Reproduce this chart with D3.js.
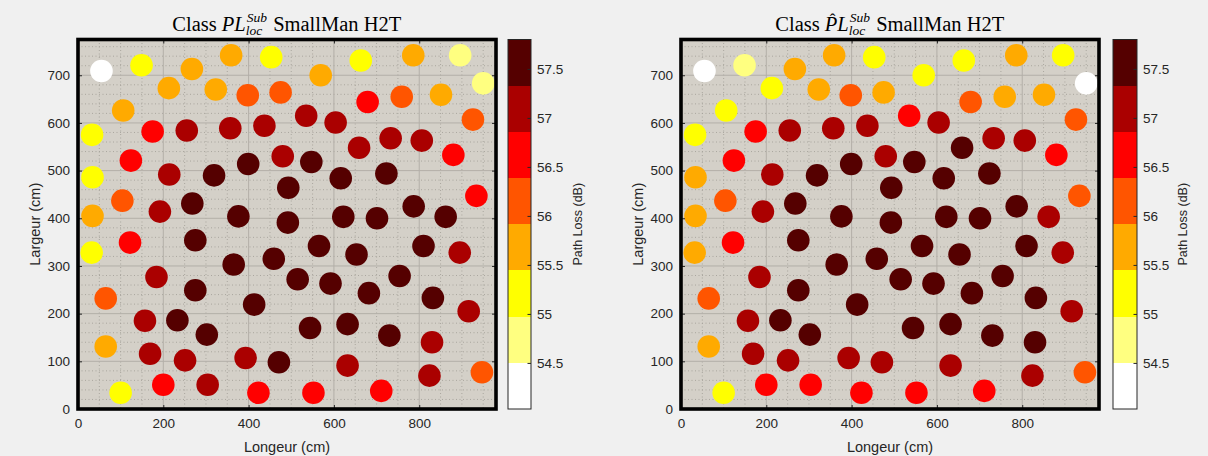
<!DOCTYPE html>
<html><head><meta charset="utf-8">
<script src="https://cdn.jsdelivr.net/npm/d3@7"></script>
<style>body{margin:0;background:#f0f0f0;} svg{display:block;} text{white-space:pre;}</style>
</head><body>
<svg id="c" width="1208" height="456"></svg>
<script>
// ---------- data ----------
const xPos = [55,149,267,359,453,569,663,786,896,950,
  213,323,398,475,679,759,851,926,106,535,
  604,733,806,659,880,33,175,255,357,437,
  124,214,319,399,480,547,34,493,616,723,
  934,104,34,192,268,376,492,622,701,787,
  862,122,32,275,365,459,515,565,184,275,
  413,65,157,233,302,544,65,169,251,393,
  471,100,200,304,423,552,653,592,682,754,
  810,895,832,916,632,730,830,632,824,947,711];
const yPos = [709,721,713,742,738,700,731,742,742,683,
  673,670,658,664,644,655,659,607,626,615,
  601,568,563,548,533,575,582,584,589,594,
  521,492,490,514,530,518,486,464,484,494,
  447,437,405,414,431,404,391,403,400,425,
  403,349,328,354,303,315,272,342,277,249,
  219,232,185,186,156,170,131,116,102,107,
  98,34,51,51,34,34,324,263,243,279,
  342,328,233,205,178,154,140,91,70,77,38];
// Path loss, class PL_loc^Sub (dB)
const plLoc = [54.28,55.18,55.66,55.72,55.21,55.69,55.24,55.70,54.76,54.72,
  55.68,55.71,56.14,56.12,56.63,56.18,55.66,56.16,55.72,57.08,
  57.11,57.05,57.12,57.06,56.61,55.19,56.58,57.10,57.09,57.13,
  56.62,57.07,57.55,57.58,57.10,57.56,55.22,57.57,57.60,57.54,
  56.64,56.13,55.70,57.09,57.56,57.59,57.62,57.57,57.55,57.61,
  57.52,56.60,55.17,57.58,57.60,57.56,57.63,57.59,57.08,57.57,
  57.61,56.15,57.06,57.55,57.58,57.62,55.68,57.11,57.08,57.12,
  57.52,55.20,56.64,57.07,56.61,56.59,57.58,57.61,57.56,57.60,
  57.57,57.10,57.58,57.06,57.60,57.56,57.12,57.09,57.07,56.17,56.62];
// Path loss, class PL^_loc^Sub (dB)
const plHat = [54.26,54.74,55.67,55.70,55.23,55.19,55.22,55.71,55.21,54.29,
  55.20,55.69,56.13,55.67,56.15,55.70,55.68,56.16,55.18,56.62,
  57.10,57.07,57.11,57.56,56.60,55.21,56.61,57.09,57.12,57.08,
  56.63,57.06,57.58,57.55,57.11,57.57,55.69,57.59,57.61,57.56,
  56.14,56.12,55.71,57.08,57.57,57.60,57.58,57.62,57.54,57.59,
  57.10,56.59,55.66,57.57,57.61,57.55,57.60,57.58,57.07,57.56,
  57.62,56.17,57.09,57.56,57.59,57.61,55.70,57.10,57.07,57.11,
  57.08,55.19,56.62,56.60,56.63,56.58,57.57,57.60,57.55,57.61,
  57.58,57.09,57.57,57.07,57.59,57.55,57.56,57.10,57.06,56.15,56.61];
const xTicks = [0,200,400,600,800];
const yTicks = [0,100,200,300,400,500,600,700];
const cbTicks = [54.5,55,55.5,56,56.5,57,57.5];
const bandColors = ["#ffffff","#ffff80","#ffff00","#ffaa00","#ff5500","#ff0000","#aa0000","#550000"];
const cLim = [54.03,57.80];
const xLim = [0,980];
const yLim = [0,775];

// ---------- drawing ----------
const svg = d3.select("#c");
const sans = "'Liberation Sans', Arial, Helvetica, sans-serif";
const serif = "'Liberation Serif', 'Times New Roman', serif";
const txt = "#262626";

const panels = [
  {x0:78, x1:496, cbX:508, cbW:23, ylabX:40, cbLabX:582, vals:plLoc, hat:false, id:"a"},
  {x0:681, x1:1099, cbX:1113, cbW:24, ylabX:643, cbLabX:1187, vals:plHat, hat:true, id:"b"}
];
const yTop = 39.5, yBot = 409;

const color = d3.scaleQuantize().domain(cLim).range(bandColors);

function measure(s, fs, italic) {
  const t = svg.append("text").attr("font-family",serif).attr("font-size",fs)
    .attr("font-style",italic?"italic":"normal").attr("visibility","hidden").text(s);
  const w = t.node().getComputedTextLength();
  t.remove();
  return w;
}

panels.forEach(p => {
  const x = d3.scaleLinear().domain(xLim).range([p.x0, p.x1]);
  const y = d3.scaleLinear().domain(yLim).range([yBot, yTop]);
  const g = svg.append("g");

  g.append("rect").attr("x",p.x0).attr("y",yTop).attr("width",p.x1-p.x0).attr("height",yBot-yTop)
    .attr("fill","#d4d0c8");

  // minor grid
  const xMinor = d3.range(50, xLim[1], 50).filter(v => v % 200 !== 0);
  const yMinor = d3.range(20, yLim[1], 20).filter(v => v % 100 !== 0);
  g.selectAll(null).data(xMinor).join("line")
    .attr("x1",d=>x(d)).attr("x2",d=>x(d)).attr("y1",yTop).attr("y2",yBot)
    .attr("stroke","#a5a19a").attr("stroke-width",0.9).attr("stroke-dasharray","1,2.5");
  g.selectAll(null).data(yMinor).join("line")
    .attr("y1",d=>y(d)).attr("y2",d=>y(d)).attr("x1",p.x0).attr("x2",p.x1)
    .attr("stroke","#a5a19a").attr("stroke-width",0.9).attr("stroke-dasharray","1,2.5");
  // major grid
  g.selectAll(null).data(xTicks.filter(v=>v>0)).join("line")
    .attr("x1",d=>x(d)).attr("x2",d=>x(d)).attr("y1",yTop).attr("y2",yBot)
    .attr("stroke","#b3afa8").attr("stroke-width",1);
  g.selectAll(null).data(yTicks.filter(v=>v>0)).join("line")
    .attr("y1",d=>y(d)).attr("y2",d=>y(d)).attr("x1",p.x0).attr("x2",p.x1)
    .attr("stroke","#b3afa8").attr("stroke-width",1);

  // points
  g.append("clipPath").attr("id","clip"+p.id).append("rect")
    .attr("x",p.x0).attr("y",yTop).attr("width",p.x1-p.x0).attr("height",yBot-yTop);
  g.append("g").attr("clip-path",`url(#clip${p.id})`)
    .selectAll("circle").data(xPos.map((v,i)=>({x:v,y:yPos[i],v:p.vals[i]}))).join("circle")
    .attr("cx",d=>x(d.x)).attr("cy",d=>y(d.y)).attr("r",11.3)
    .attr("fill",d=>color(d.v));

  // axes with inward ticks
  const ax = d3.axisBottom(x).tickValues(xTicks).tickSizeInner(-4).tickSizeOuter(0).tickPadding(9);
  const ay = d3.axisLeft(y).tickValues(yTicks).tickSizeInner(-4).tickSizeOuter(0).tickPadding(8);
  const gx = g.append("g").attr("transform",`translate(0,${yBot})`).call(ax);
  const gy = g.append("g").attr("transform",`translate(${p.x0},0)`).call(ay);
  [gx,gy].forEach(a=>{
    a.select(".domain").remove();
    a.selectAll("line").attr("stroke",txt);
    a.selectAll("text").attr("fill",txt).attr("font-family",sans).attr("font-size",13.5);
  });
  // top/right ticks
  g.append("g").attr("transform",`translate(0,${yTop})`)
    .call(d3.axisTop(x).tickValues(xTicks).tickSizeInner(-4).tickSizeOuter(0).tickFormat(""))
    .call(a=>{a.select(".domain").remove(); a.selectAll("line").attr("stroke",txt);});
  g.append("g").attr("transform",`translate(${p.x1},0)`)
    .call(d3.axisRight(y).tickValues(yTicks).tickSizeInner(-4).tickSizeOuter(0).tickFormat(""))
    .call(a=>{a.select(".domain").remove(); a.selectAll("line").attr("stroke",txt);});

  // thick box
  g.append("rect").attr("x",p.x0).attr("y",yTop).attr("width",p.x1-p.x0).attr("height",yBot-yTop)
    .attr("fill","none").attr("stroke","#000").attr("stroke-width",3.6);

  // axis labels
  g.append("text").attr("x",(p.x0+p.x1)/2).attr("y",452).attr("text-anchor","middle")
    .attr("font-family",sans).attr("font-size",14.5).attr("fill",txt).text("Longeur (cm)");
  g.append("text").attr("transform",`translate(${p.ylabX},${(yTop+yBot)/2}) rotate(-90)`)
    .attr("text-anchor","middle").attr("font-family",sans).attr("font-size",14.5).attr("fill",txt)
    .text("Largeur (cm)");

  // colorbar
  const cy = d3.scaleLinear().domain(cLim).range([yBot, yTop]);
  const step = (cLim[1]-cLim[0])/bandColors.length;
  const cb = svg.append("g");
  cb.selectAll("rect").data(bandColors).join("rect")
    .attr("x",p.cbX).attr("width",p.cbW)
    .attr("y",(d,i)=>cy(cLim[0]+(i+1)*step)).attr("height",(d,i)=>cy(cLim[0]+i*step)-cy(cLim[0]+(i+1)*step))
    .attr("fill",d=>d).attr("shape-rendering","crispEdges");
  cb.append("rect").attr("x",p.cbX).attr("y",yTop).attr("width",p.cbW).attr("height",yBot-yTop)
    .attr("fill","none").attr("stroke",txt).attr("stroke-width",1);
  const cax = cb.append("g").attr("transform",`translate(${p.cbX+p.cbW},0)`)
    .call(d3.axisRight(cy).tickValues(cbTicks).tickSizeInner(-3.5).tickSizeOuter(0).tickPadding(6)
      .tickFormat(d3.format("~g")));
  cax.select(".domain").remove();
  cax.selectAll("line").attr("stroke",txt);
  cax.selectAll("text").attr("fill",txt).attr("font-family",sans).attr("font-size",13.5);
  cb.append("text").attr("transform",`translate(${p.cbLabX},${(yTop+yBot)/2}) rotate(-90)`)
    .attr("text-anchor","middle").attr("font-family",sans).attr("font-size",12.5).attr("fill",txt)
    .text("Path Loss (dB)");

  // title: one text element with tspans, stacked sub/superscript
  const FS = 20.5, SFS = 13.5;
  const wP = measure("P", FS, true);
  const wHat = measure("\u02C6", 17, false);
  const wSup = measure("Sub", SFS, true);
  const wSub = measure("loc", SFS, true);
  const t = svg.append("text").attr("y",30.5).attr("font-family",serif).attr("font-size",FS).attr("fill","#000");
  t.append("tspan").text("Class ");
  t.append("tspan").attr("font-style","italic").text("P");
  if (p.hat) {
    t.append("tspan").attr("font-size",17).attr("dx",-wP*0.38 - wHat/2).attr("dy",-6).text("\u02C6");
    t.append("tspan").attr("font-style","italic").attr("dx",wP*0.38 - wHat/2).attr("dy",6).text("L");
  } else {
    t.append("tspan").attr("font-style","italic").text("L");
  }
  t.append("tspan").attr("font-style","italic").attr("font-size",SFS).attr("dx",1).attr("dy",-9).text("Sub");
  t.append("tspan").attr("font-style","italic").attr("font-size",SFS).attr("dx",-wSup-1).attr("dy",13.5).text("loc");
  const extra = Math.max(wSup+1, wSub) - wSub + 1;
  t.append("tspan").attr("dx",extra).attr("dy",-4.5).text(" SmallMan H2T");
  const tw = t.node().getBBox().width;
  t.attr("x",(p.x0+p.x1)/2 - tw/2);
});
</script>
</body></html>
